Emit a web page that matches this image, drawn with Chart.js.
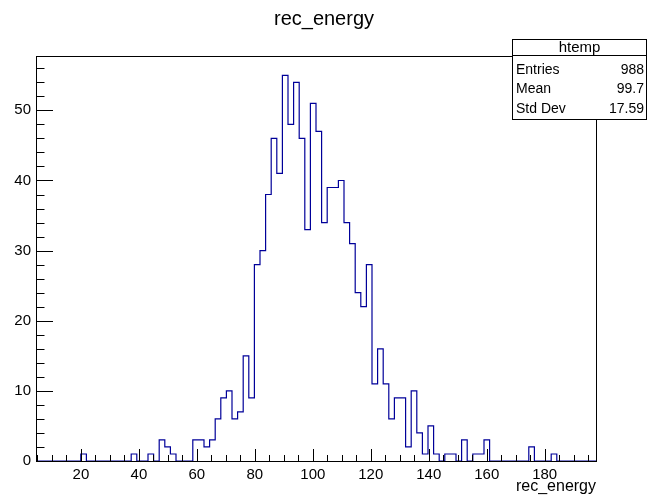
<!DOCTYPE html>
<html>
<head>
<meta charset="utf-8">
<script src="https://cdn.jsdelivr.net/npm/chart.js@4.4.0/dist/chart.umd.min.js"></script>
<style>
html, body { margin: 0; padding: 0; background: #fff; }
#container { width: 648px; height: 495px; }
</style>
</head>
<body>
<div id="container"><canvas id="myChart" width="648" height="495"></canvas></div>
<script>
var histName = 'htemp';
var varName = 'rec_energy';
var xMin = 4.5;
var xMax = 197.7;
var nBins = 100;
var yMax = 57.75;

// bin contents
var counts = [
    0, 0, 0, 0, 0, 0, 0, 0, 1, 0,
    0, 0, 0, 0, 0, 0, 0, 1, 0, 0,
    1, 0, 3, 2, 1, 0, 0, 0, 3, 3,
    2, 3, 6, 9, 10, 6, 7, 15, 9, 28,
    30, 38, 46, 41, 55, 48, 54, 46, 33, 51,
    47, 34, 39, 39, 40, 34, 31, 24, 22, 28,
    11, 16, 11, 6, 9, 9, 2, 10, 4, 1,
    5, 1, 0, 1, 1, 0, 3, 0, 1, 1,
    3, 0, 0, 0, 0, 0, 0, 0, 2, 0,
    0, 0, 1, 0, 0, 0, 0, 0, 0, 0
];

var statLabels = ['Entries', 'Mean', 'Std Dev'];
var statValues = ['988', '99.7', '17.59'];

var fontName = '"Liberation Sans", Arial, Helvetica, sans-serif';
var lineCol = '#000099';

var binW = (xMax - xMin) / nBins;
var points = [];
for (var i = 0; i < nBins; i++) {
    points.push({x: xMin + i * binW, y: counts[i]});
}
points.push({x: xMax, y: counts[nBins - 1]});

// frame, inner ticks, title and stats box (ROOT style)
var rootDeco = {
    id: 'rootDeco',
    afterDatasetsDraw: function (chart) {
        var ctx = chart.ctx;
        var a = chart.chartArea;
        var xs = chart.scales.x, ys = chart.scales.y;
        ctx.save();
        ctx.strokeStyle = '#000';
        ctx.lineWidth = 1;
        ctx.beginPath();
        // x ticks
        for (var v = 5; v < xMax; v += 5) {
            var px = Math.round(xs.getPixelForValue(v)) + 0.5;
            var len = (v % 20 == 0) ? 12 : 6;
            ctx.moveTo(px, a.bottom);
            ctx.lineTo(px, a.bottom - len);
        }
        // y ticks
        for (var w = 0; w <= 56; w += 2) {
            var py = Math.round(ys.getPixelForValue(w)) + 0.5;
            var l2 = (w % 10 == 0) ? 17 : 8.5;
            ctx.moveTo(a.left, py);
            ctx.lineTo(a.left + l2, py);
        }
        ctx.stroke();
        ctx.strokeRect(Math.round(a.left) + 0.5, Math.round(a.top) + 0.5,
            Math.round(a.right - a.left), Math.round(a.bottom - a.top));
        ctx.restore();
    },
    afterDraw: function (chart) {
        var ctx = chart.ctx;
        ctx.save();
        // title
        ctx.fillStyle = '#000';
        ctx.font = '20px ' + fontName;
        ctx.textAlign = 'center';
        ctx.textBaseline = 'middle';
        ctx.fillText(varName, 324, 19);

        // stats box
        var bx = 512.5, by = 39.5, bw = 134, bh = 80;
        ctx.fillStyle = '#fff';
        ctx.fillRect(bx, by, bw, bh);
        ctx.strokeStyle = '#000';
        ctx.lineWidth = 1;
        ctx.strokeRect(bx, by, bw, bh);
        ctx.beginPath();
        ctx.moveTo(bx, 55.5);
        ctx.lineTo(bx + bw, 55.5);
        ctx.stroke();
        ctx.fillStyle = '#000';
        ctx.font = '15px ' + fontName;
        ctx.textAlign = 'center';
        ctx.fillText(histName, bx + bw / 2, 47.5);
        ctx.font = '14px ' + fontName;
        for (var i = 0; i < statLabels.length; i++) {
            var ty = 70 + i * 19.5;
            ctx.textAlign = 'left';
            ctx.fillText(statLabels[i], 516, ty);
            ctx.textAlign = 'right';
            ctx.fillText(statValues[i], 644, ty);
        }
        ctx.restore();
    }
};

var config = {
    type: 'line',
    data: {
        datasets: [{
            label: histName,
            data: points,
            stepped: true,
            borderColor: lineCol,
            borderWidth: 1.2,
            pointRadius: 0,
            fill: false
        }]
    },
    options: {
        responsive: false,
        animation: false,
        layout: { padding: { top: 56, right: 52, left: 0, bottom: 0 } },
        plugins: {
            legend: { display: false },
            tooltip: { enabled: false }
        },
        scales: {
            x: {
                type: 'linear',
                min: xMin,
                max: xMax,
                grid: { display: false, drawTicks: false },
                border: { display: false },
                ticks: {
                    stepSize: 20,
                    includeBounds: false,
                    maxRotation: 0,
                    autoSkip: false,
                    padding: 5,
                    color: '#000',
                    font: { family: fontName, size: 15 }
                },
                title: {
                    display: true,
                    text: varName,
                    align: 'end',
                    color: '#000',
                    padding: { top: 0, bottom: 0 },
                    font: { family: fontName, size: 16, lineHeight: 1.05 }
                },
                afterFit: function (scale) { scale.height = 34; }
            },
            y: {
                min: 0,
                max: yMax,
                grid: { display: false, drawTicks: false },
                border: { display: false },
                ticks: {
                    stepSize: 10,
                    includeBounds: false,
                    padding: 5,
                    color: '#000',
                    font: { family: fontName, size: 15 }
                },
                afterFit: function (scale) { scale.width = 36; }
            }
        }
    },
    plugins: [rootDeco]
};

var myChart = new Chart(document.getElementById('myChart').getContext('2d'), config);
</script>
</body>
</html>
